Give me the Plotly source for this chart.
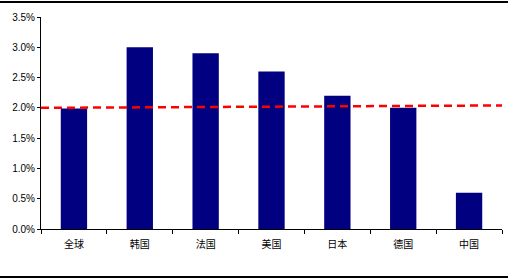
import plotly.graph_objects as go

categories = ["全球", "韩国", "法国", "美国", "日本", "德国", "中国"]
values = [0.0199, 0.030, 0.029, 0.026, 0.022, 0.020, 0.006]
avg_line_x = [0, 1]
avg_line_y = [0.0200, 0.0204]

fig = go.Figure()
fig.add_trace(go.Bar(x=categories, y=values, marker=dict(color="#000080", line=dict(width=0)),
                     width=0.4, xaxis="x", yaxis="y"))
fig.add_trace(go.Scatter(x=avg_line_x, y=avg_line_y, mode="lines",
                         line=dict(color="#FF0000", width=2.5, dash="8px,5px"),
                         xaxis="x2", yaxis="y"))

fig.update_layout(
    width=511, height=280,
    margin=dict(l=41, r=9, t=17, b=51),
    paper_bgcolor="white", plot_bgcolor="white",
    showlegend=False,
    xaxis=dict(showline=True, linecolor="black", linewidth=1, ticks="outside", tickson="boundaries",
               ticklen=4, tickcolor="black", showgrid=False,
               tickfont=dict(family="Noto Sans CJK SC", size=10, color="black"),
               ticklabelstandoff=6),
    xaxis2=dict(overlaying="x", range=[0, 1], visible=False),
    yaxis=dict(range=[0, 0.035], dtick=0.005, tickformat=".1%", showline=True, linecolor="black",
               linewidth=1, ticks="outside", ticklen=3, tickcolor="black", showgrid=False,
               zeroline=False, tickfont=dict(family="Liberation Sans, Arial", size=10, color="black")),
    shapes=[
        dict(type="line", xref="paper", yref="paper", x0=-41/461, x1=(508-41)/461,
             y0=(280-51-2)/212 * 1 + 0, y1=(280-51-2)/212, line=dict(color="black", width=2)),
        dict(type="line", xref="paper", yref="paper", x0=-41/461, x1=(508-41)/461,
             y0=-(277-229)/212, y1=-(277-229)/212, line=dict(color="black", width=2)),
    ],
)
fig.write_html("out.html")
